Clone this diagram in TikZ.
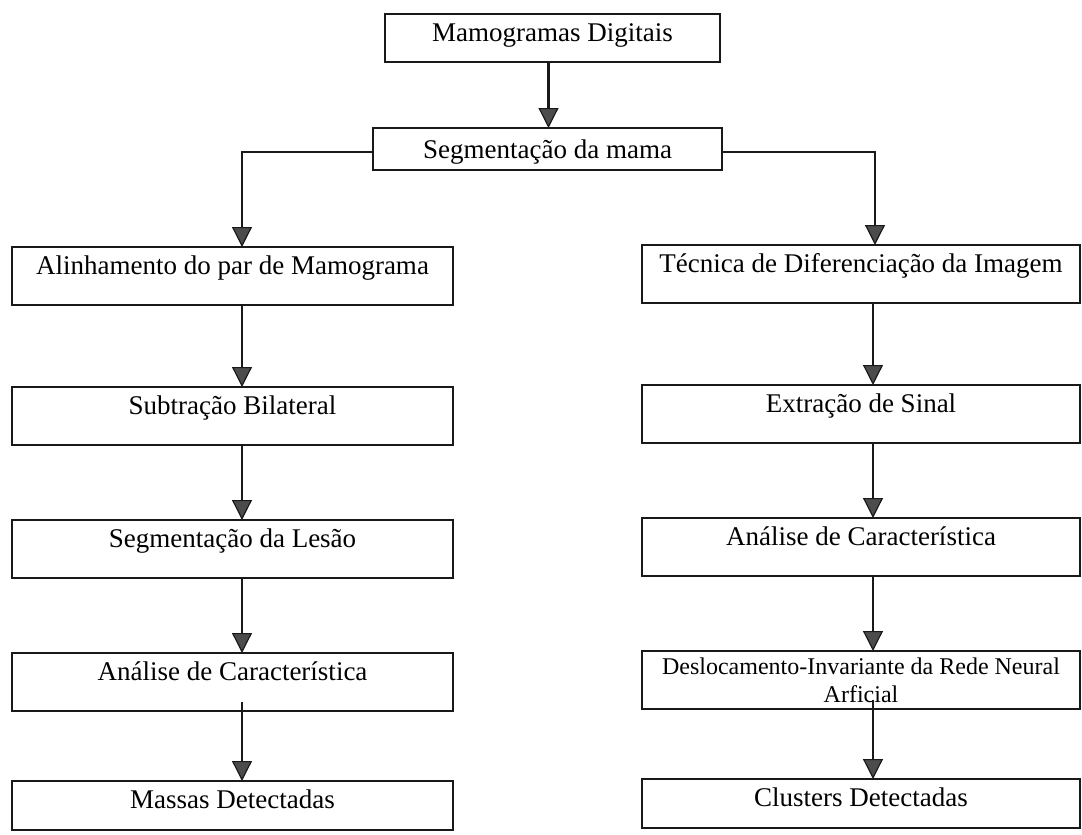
\documentclass[tikz,border=0pt]{standalone}
\usepackage{fontspec}
\setmainfont{Liberation Serif}
\usetikzlibrary{positioning}
\usetikzlibrary{arrows.meta}

\tikzset{
  stage/.style={draw=black!90, line width=1.2pt, outer sep=0pt, inner xsep=0pt, inner ysep=3pt,
    text height=10.5pt, text depth=12.5pt, anchor=north, font=\fontsize{13.5pt}{15pt}\selectfont},
  leftcol/.style={stage, minimum width=220.5pt},
  rightcol/.style={stage, minimum width=219pt},
  flow/.style={draw=black!90, line width=1.2pt,
    -{Triangle[width=10pt, length=10pt, fill=black!70, line width=0.6pt]}},
}

\begin{document}
\begin{tikzpicture}
    \useasboundingbox (0,0) rectangle (541pt,-417.5pt);
    \node[stage, minimum width=167.5pt, text depth=7.5pt] (mamo) at (276.25pt,-7pt) {Mamogramas Digitais} ; %
    \node[stage, minimum width=174.5pt, text height=12pt, text depth=3pt, below=33pt of mamo, xshift=-2.5pt] (segmama) {Segmentação da mama} ; %
% left branch (masses)
    \node[leftcol] (alinha) at (116.25pt,-123.5pt) {Alinhamento do par de Mamograma} ; %
    \node[leftcol, below=41pt of alinha] (subtra) {Subtração Bilateral} ; %
    \node[leftcol, below=37.5pt of subtra] (seglesao) {Segmentação da Lesão} ; %
    \node[leftcol, below=37.5pt of seglesao] (analiseL) {Análise de Característica} ; %
    \node[leftcol, text depth=8pt, below=35pt of analiseL] (massas) {Massas Detectadas} ; %
% right branch (clusters)
    \node[rightcol] (tecnica) at (430.5pt,-122.5pt) {Técnica de Diferenciação da Imagem} ; %
    \node[rightcol, below=41pt of tecnica] (extra) {Extração de Sinal} ; %
    \node[rightcol, below=37.5pt of extra] (analiseR) {Análise de Característica} ; %
    \node[rightcol, text height={}, text depth={}, inner ysep=1pt, minimum height=29pt, align=center,
      font=\fontsize{12pt}{14pt}\selectfont, below=37.5pt of analiseR] (rede) {Deslocamento-Invariante da Rede Neural\\Arficial} ; %
    \node[rightcol, text depth=8pt, below=35pt of rede] (clusters) {Clusters Detectadas} ; %
% edges
    \draw[flow] ([xshift=-2pt]mamo.south) -- ([xshift=-2pt]mamo.south |- segmama.north) ; %
    \draw[flow] ([yshift=-1.5pt]segmama.west) -| ([xshift=4.75pt]alinha.north) ; %
    \draw[flow] ([yshift=-1.5pt]segmama.east) -| ([xshift=7pt]tecnica.north) ; %
% left edges
    \draw[flow] ([xshift=4.75pt]alinha.south) -- ([xshift=4.75pt]subtra.north) ; %
    \draw[flow] ([xshift=4.75pt]subtra.south) -- ([xshift=4.75pt]seglesao.north) ; %
    \draw[flow] ([xshift=4.75pt]seglesao.south) -- ([xshift=4.75pt]analiseL.north) ; %
    \draw[flow] ([xshift=4.75pt, yshift=4.5pt]analiseL.south) -- ([xshift=4.75pt]massas.north) ; %
% right edges
    \draw[flow] ([xshift=6pt]tecnica.south) -- ([xshift=6pt]extra.north) ; %
    \draw[flow] ([xshift=6pt]extra.south) -- ([xshift=6pt]analiseR.north) ; %
    \draw[flow] ([xshift=6pt]analiseR.south) -- ([xshift=6pt]rede.north) ; %
    \draw[flow] ([xshift=6pt, yshift=4.5pt]rede.south) -- ([xshift=6pt]clusters.north) ; %
\end{tikzpicture}
\end{document}
